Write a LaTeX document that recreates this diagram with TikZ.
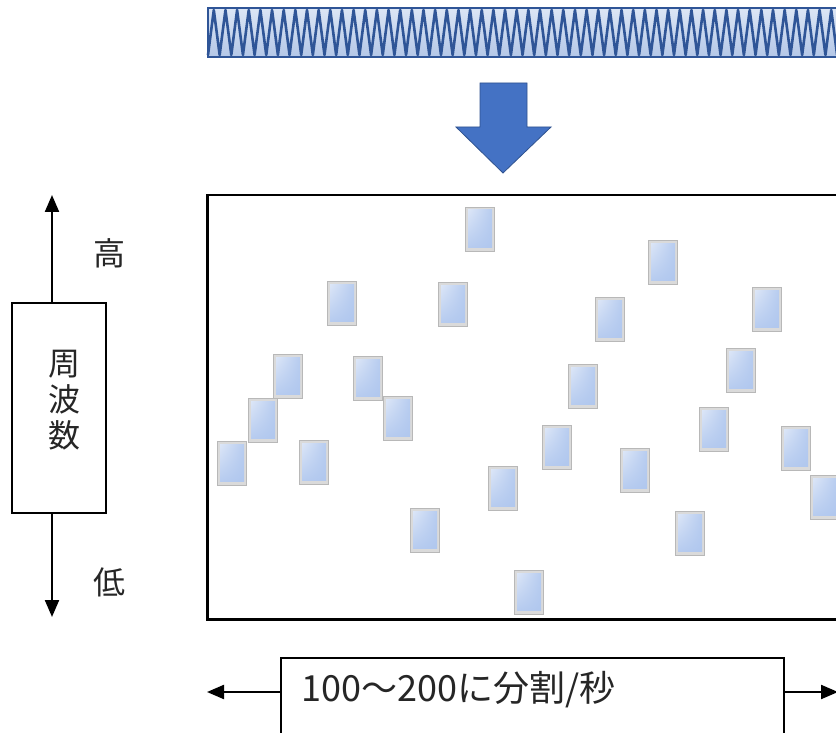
\documentclass[tikz,border=0pt]{standalone}
\usepackage{fontspec}
\setmainfont{Noto Sans CJK JP}
\usetikzlibrary{arrows.meta,shadings}
\definecolor{wavebd}{HTML}{2F5597}
\definecolor{wavetop}{HTML}{DCE6F5}
\definecolor{wavebot}{HTML}{B4C7E7}
\definecolor{arrowfill}{HTML}{4472C4}
\definecolor{arrowbd}{HTML}{2F528F}
\definecolor{tileframe}{HTML}{DADADA}
\definecolor{tileedge}{HTML}{B8B8B8}
\definecolor{tilelight}{HTML}{DCE6F7}
\definecolor{tiledark}{HTML}{B0C7EE}
\definecolor{txt}{HTML}{262626}
\begin{document}
\begin{tikzpicture}[x=1pt,y=-1pt,
  arr/.style={line width=2.2pt,-{Triangle[length=17pt,width=14pt]}},
  boxline/.style={draw=black,line width=2pt,inner sep=0pt},
  lbl/.style={text=txt,font=\fontsize{32}{36}\selectfont,inner sep=0pt},
  tile/.pic={
    \fill[tileframe] (0,0) rectangle (30,45);
    \draw[tileedge,line width=1pt] (0.5,0.5) rectangle (29.5,44.5);
    \shade[upper left=tilelight,upper right=tiledark!85!tilelight,lower left=tiledark!85!tilelight,lower right=tiledark] (3,3) rectangle (27,40);
  }]
\useasboundingbox (0,0) rectangle (836,733);
\clip (0,0) rectangle (836,733);
\fill[white] (0,0) rectangle (836,733);

% wave band
\shade[top color=wavetop,bottom color=wavebot] (208,8) rectangle (860,57);
\draw[wavebd,line width=2.6pt,line join=round] (208,55)
  \foreach \i in {0,...,55} { -- ({208+\i*11.65+5.8},10) -- ({208+(\i+1)*11.65},55) };
\draw[wavebd,line width=1.6pt] (208,8) rectangle (860,57);

% down arrow
\filldraw[fill=arrowfill,draw=arrowbd,line width=0.8pt]
  (480,83) -- (527,83) -- (527,127) -- (551,127) -- (503,173) -- (456,127) -- (480,127) -- cycle;

% main box
\node[boxline,line width=2.5pt,anchor=north west,minimum width=700pt,minimum height=424pt] (spec) at (206,194) {};

% tiles
\foreach \x/\y in {465/207,648/240,327/281,438/282,595/297,752/287,273/354,353/356,726/348,568/364,
                   248/398,383/396,699/407,542/425,781/426,217/441,299/440,620/448,488/466,810/475,
                   410/508,675/511,514/570}
  \pic at (\x,\y) {tile};

% frequency axis
\node[boxline,minimum width=94pt,minimum height=210pt] (freq) at (59,408) {};
\node[lbl,align=center] (freqtxt) at (64,400) {周\\波\\数};
\coordinate (ftop) at (52,195);
\coordinate (fbot) at (52,617);
\draw[arr] (freq.north -| ftop) -- (ftop);
\draw[arr] (freq.south -| fbot) -- (fbot);
\node[lbl] (high) at (109,253) {高};
\node[lbl] (low) at (109,582) {低};

% time axis
\node[boxline,anchor=north west,minimum width=503pt,minimum height=110pt] (split) at (280,657) {};
\node[lbl,anchor=west,font=\fontsize{36}{40}\selectfont] (splittxt) at (301,690) {100〜200に分割/秒};
\coordinate (tleft) at (207,692);
\coordinate (tright) at (838,692);
\draw[arr] (split.west |- tleft) -- (tleft);
\draw[arr] (split.east |- tright) -- (tright);
\end{tikzpicture}
\end{document}
